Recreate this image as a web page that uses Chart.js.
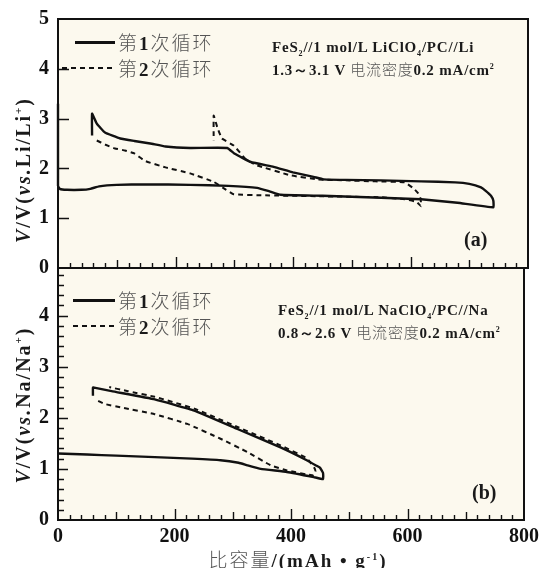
<!DOCTYPE html>
<html lang="zh">
<head>
<meta charset="utf-8">
<script src="https://cdn.jsdelivr.net/npm/chart.js@4.4.1/dist/chart.umd.min.js"></script>
<style>
  html, body { margin: 0; padding: 0; background: #fff; }
  #wrap { position: relative; width: 544px; height: 568px; overflow: hidden; background: #fff; }
  canvas { position: absolute; left: 0; }
  #chartA { top: -2px; }
  #chartB { top: 247px; }
  .txt { position: absolute; white-space: nowrap; font-family: "Liberation Serif", "DejaVu Serif", serif; font-weight: bold; color: #1a1a1a; }
  .cjk { font-family: "Noto Sans CJK SC", sans-serif; font-weight: 300; color: #555; }
  .leg { font-size: 19px; line-height: 22px; letter-spacing: 2px; }
  .note { font-size: 15px; line-height: 18px; letter-spacing: 0.8px; }
  .note sub, .note sup { font-size: 8px; }
  .tag { font-size: 20px; }
  .ytitle { font-size: 20px; letter-spacing: 2px; transform: translate(-50%, -50%) rotate(-90deg); }
  .ytitle sup { font-size: 11px; }
  .xtitle { font-size: 19px; letter-spacing: 2px; transform: translateX(-50%); }
  .xtitle sup { font-size: 10px; }
  .solid { position: absolute; height: 2.5px; background: #111; }
  .dash { position: absolute; height: 2px; background: repeating-linear-gradient(to right, #111 0 5px, transparent 5px 9px); }
</style>
</head>
<body>
<div id="wrap">
  <canvas id="chartA" width="544" height="291"></canvas>
  <canvas id="chartB" width="544" height="321"></canvas>

  <!-- Панель (a) -->
  <div class="solid" style="left:75px;top:41px;width:40px"></div>
  <div class="txt leg" style="left:118px;top:31px"><span class="cjk">第</span>1<span class="cjk">次循环</span></div>
  <div class="dash" style="left:62px;top:67px;width:53px"></div>
  <div class="txt leg" style="left:118px;top:57px"><span class="cjk">第</span>2<span class="cjk">次循环</span></div>
  <div class="txt note" style="left:272px;top:38px">FeS<sub>2</sub>//1 mol/L LiClO<sub>4</sub>/PC//Li</div>
  <div class="txt note" style="left:272px;top:58px">1.3～3.1 V <span class="cjk">电流密度</span>0.2 mA/cm<sup>2</sup></div>
  <div class="txt tag" style="left:464px;top:228px">(a)</div>
  <div class="txt ytitle" style="left:23px;top:170px"><i>V</i>/V(<i>vs.</i>Li/Li<sup>+</sup>)</div>

  <!-- Панель (b) -->
  <div class="solid" style="left:73px;top:299px;width:42px"></div>
  <div class="txt leg" style="left:118px;top:289px"><span class="cjk">第</span>1<span class="cjk">次循环</span></div>
  <div class="dash" style="left:73px;top:325px;width:42px"></div>
  <div class="txt leg" style="left:118px;top:315px"><span class="cjk">第</span>2<span class="cjk">次循环</span></div>
  <div class="txt note" style="left:278px;top:301px">FeS<sub>2</sub>//1 mol/L NaClO<sub>4</sub>/PC//Na</div>
  <div class="txt note" style="left:278px;top:321px">0.8～2.6 V <span class="cjk">电流密度</span>0.2 mA/cm<sup>2</sup></div>
  <div class="txt tag" style="left:472px;top:481px">(b)</div>
  <div class="txt ytitle" style="left:23px;top:405px"><i>V</i>/V(<i>vs.</i>Na/Na<sup>+</sup>)</div>

  <div class="txt xtitle" style="left:298px;top:545px"><span class="cjk">比容量</span>/(mAh • g<sup>-1</sup>)</div>
</div>

<script>
// ================== ДАННЫЕ ================== //

// Панель (a): FeS2 / Li, 1-й цикл (сплошная) — разряд, затем заряд
const capA1 = [0, 0, 3, 15, 40, 55, 70, 100, 150, 225, 290, 339, 360, 379, 450, 500, 550, 618, 680, 741,
  741, 737, 728, 720, 700, 676, 618, 550, 490, 452, 435, 400, 367, 328, 300, 288, 225, 183, 157, 130, 106, 80, 66, 58, 58];
const voltA1 = [3.3, 1.65, 1.59, 1.57, 1.57, 1.59, 1.64, 1.67, 1.68, 1.67, 1.65, 1.61, 1.54, 1.47, 1.45, 1.43, 1.41, 1.38, 1.31, 1.22,
  1.35, 1.45, 1.55, 1.62, 1.69, 1.72, 1.74, 1.76, 1.77, 1.78, 1.83, 1.92, 2.03, 2.13, 2.3, 2.41, 2.41, 2.44, 2.5, 2.55, 2.6, 2.72, 2.9, 3.1, 2.66];

// Панель (a): 2-й цикл (пунктир)
const capA2 = [66, 80, 97, 114, 130, 148, 183, 225, 265, 285, 299, 350, 450, 550, 590, 610, 618,
  617, 613, 605, 590, 540, 490, 442, 396, 339, 320, 299, 279, 271, 265, 265];
const voltA2 = [2.56, 2.48, 2.4, 2.36, 2.3, 2.15, 2.02, 1.9, 1.73, 1.58, 1.48, 1.46, 1.44, 1.42, 1.38, 1.33, 1.24,
  1.4, 1.5, 1.6, 1.72, 1.74, 1.76, 1.78, 1.86, 2.06, 2.18, 2.46, 2.6, 2.83, 3.06, 2.56];

// Панель (b): FeS2 / Na, 1-й цикл (сплошная)
const capB1 = [0, 50, 100, 166, 230, 279, 310, 325, 348, 393, 439, 455,
  455, 450, 444, 427, 382, 308, 234, 166, 92, 62, 60, 60];
const voltB1 = [1.3, 1.28, 1.26, 1.23, 1.2, 1.17, 1.12, 1.07, 1.0, 0.94, 0.84, 0.8,
  0.92, 1.02, 1.06, 1.17, 1.42, 1.78, 2.14, 2.36, 2.52, 2.59, 2.59, 2.43];

// Панель (b): 2-й цикл (пунктир)
const capB2 = [69, 80, 109, 166, 222, 279, 325, 365, 393, 439,
  442, 440, 427, 382, 308, 234, 166, 120, 88];
const voltB2 = [2.33, 2.27, 2.2, 2.07, 1.88, 1.59, 1.33, 1.07, 0.97, 0.87,
  0.95, 1.02, 1.21, 1.46, 1.82, 2.18, 2.41, 2.52, 2.6];

// Подписи осей
const xTickValues = [0, 200, 400, 600, 800];
const yTickValues = [0, 1, 2, 3, 4, 5];

// ================== КОНФИГУРАЦИЯ ================== //

const CONFIG = {
  plotBg: '#fcf9ee',
  ink: '#111111',
  tickFont: { family: '"Liberation Serif", "DejaVu Serif", serif', size: 20, weight: 'bold' },
  axisWidth: 58,
  right: 16
};

/**
 * Пары значений для scatter-линии
 */
function toPoints(caps, volts) {
  return caps.map((c, i) => ({ x: c, y: volts[i] }));
}

/**
 * Фон области графика, рамка и внутренние засечки
 */
const panelFrame = {
  id: 'panelFrame',
  beforeDraw(chart) {
    const { ctx, chartArea: a } = chart;
    ctx.save();
    ctx.fillStyle = CONFIG.plotBg;
    ctx.fillRect(a.left, a.top, a.width, a.height);
    ctx.restore();
  },
  afterDraw(chart, args, opts) {
    const { ctx, chartArea: a, scales: { x, y } } = chart;
    ctx.save();
    ctx.strokeStyle = CONFIG.ink;
    ctx.lineWidth = 1.4;
    ctx.beginPath();
    for (let v = 20; v < 800; v += 20) {
      const px = Math.round(x.getPixelForValue(v)) + 0.5;
      const len = v % 200 === 0 ? 11 : v % 100 === 0 ? 8 : 5;
      ctx.moveTo(px, a.bottom);
      ctx.lineTo(px, a.bottom - len);
    }
    const step = opts.yMinor || 1;
    for (let i = 1; i * step < y.max - 0.01; i++) {
      const v = i * step;
      const py = Math.round(y.getPixelForValue(v)) + 0.5;
      const major = Math.abs(v - Math.round(v)) < 1e-6;
      const len = major ? (opts.yMajorLen || 11) : 6;
      ctx.moveTo(a.left, py);
      ctx.lineTo(a.left + len, py);
    }
    ctx.stroke();
    ctx.lineWidth = 2;
    ctx.strokeRect(a.left, a.top, a.width, a.height);
    ctx.restore();
  }
};

/**
 * Набор данных для одного цикла
 */
function cycleDataset(label, caps, volts, dashed) {
  return {
    label,
    data: toPoints(caps, volts),
    showLine: true,
    borderColor: CONFIG.ink,
    borderWidth: dashed ? 2 : 2.4,
    borderDash: dashed ? [5, 4] : [],
    pointRadius: 0,
    tension: 0.1,
    clip: 4
  };
}

/**
 * Построение одной панели
 */
function buildPanel(canvasId, sets, opts) {
  return new Chart(document.getElementById(canvasId).getContext('2d'), {
    type: 'scatter',
    data: { datasets: sets },
    options: {
      responsive: false,
      animation: false,
      layout: { padding: { top: 0, right: CONFIG.right, bottom: 0, left: 0 } },
      plugins: {
        legend: { display: false },
        tooltip: { enabled: false },
        panelFrame: { yMinor: opts.yMinor, yMajorLen: opts.yMajorLen }
      },
      scales: {
        x: {
          type: 'linear',
          min: 0,
          max: 800,
          display: opts.showX,
          grid: { display: false, drawTicks: false },
          border: { display: false },
          afterBuildTicks: (scale) => { scale.ticks = xTickValues.map(v => ({ value: v })); },
          afterFit: (scale) => { if (opts.showX) scale.height = opts.xHeight; },
          ticks: { color: CONFIG.ink, font: CONFIG.tickFont, padding: 5, maxRotation: 0 }
        },
        y: {
          type: 'linear',
          min: 0,
          max: opts.yMax,
          grid: { display: false, drawTicks: false },
          border: { display: false },
          afterBuildTicks: (scale) => { scale.ticks = yTickValues.filter(v => v <= opts.yMax).map(v => ({ value: v })); },
          afterFit: (scale) => { scale.width = CONFIG.axisWidth; },
          ticks: { color: CONFIG.ink, font: CONFIG.tickFont, padding: 9 }
        }
      }
    },
    plugins: [panelFrame]
  });
}

// ================== ИНИЦИАЛИЗАЦИЯ ================== //

function initApp() {
  // Панель (a): область графика 19..268 px по высоте страницы
  buildPanel('chartA', [
    cycleDataset('第1次循环', capA1, voltA1, false),
    cycleDataset('第2次循环', capA2, voltA2, true)
  ], { yMax: 5, yMinor: 1, yMajorLen: 11, showX: false });

  // Панель (b): область графика 268..520 px
  buildPanel('chartB', [
    cycleDataset('第1次循环', capB1, voltB1, false),
    cycleDataset('第2次循环', capB2, voltB2, true)
  ], { yMax: 4.93, yMinor: 0.2, yMajorLen: 10, showX: true, xHeight: 48 });
}

document.addEventListener('DOMContentLoaded', initApp);
</script>
</body>
</html>
